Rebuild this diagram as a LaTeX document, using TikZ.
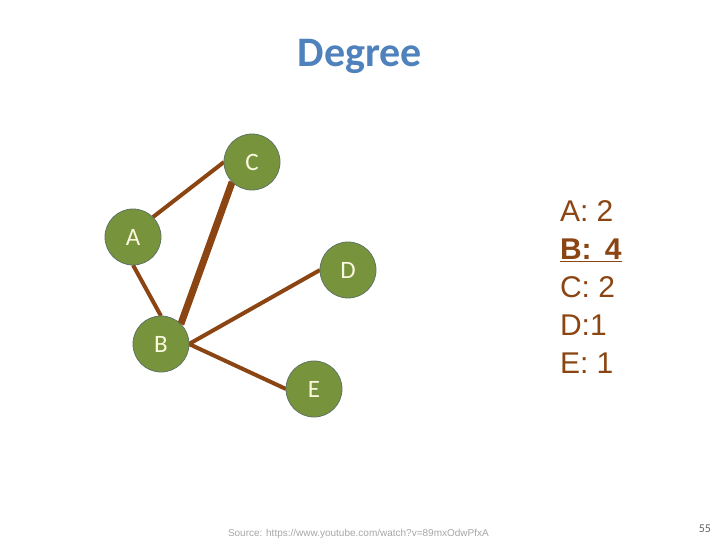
\documentclass[tikz,border=0pt]{standalone}
\usepackage{fontspec}
\setmainfont{Carlito}
\newfontfamily\arialfont{Liberation Sans}
\usepackage{tikz}
\usetikzlibrary{arrows, backgrounds}

\definecolor{titleblue}{RGB}{79,129,189}
\definecolor{edgebrown}{RGB}{139,69,19}
\definecolor{nodegreen}{RGB}{119,147,60}
\definecolor{nodeline}{RGB}{96,116,100}
\definecolor{labelcream}{RGB}{250,248,222}

\begin{document}
\begin{tikzpicture}[x=1pt, y=-1pt, semithick, inner sep=0pt, outer sep=0pt]

  \tikzstyle{vertex}=[circle, minimum size=56pt, fill=nodegreen,
    draw=nodeline, line width=0.8pt, text=labelcream,
    font=\fontsize{25}{25}\selectfont]
  \tikzstyle{link}=[draw=edgebrown, line width=4pt]

  \useasboundingbox (0,0) rectangle (720,540);

  \node[font=\fontsize{42}{42}\selectfont\bfseries, text=titleblue]
  (TITLE) at (360,56) {Degree};

  \node[vertex] (C) at (252,162) {C};
  \node[vertex] (A) at (133,237) {A};
  \node[vertex] (B) at (161,344) {B};
  \node[vertex] (D) at (348,270) {D};
  \node[vertex] (E) at (314,389) {E};

  % links go under the circles
  \begin{scope}[on background layer]
    \path
    (A.45) edge [link] (C.west)
    (A.south) edge [link] (B.north)
    (B.45) edge [link, line width=7pt] (C.225)
    (B.east) edge [link] (D.west)
    edge [link] (E.west);
  \end{scope}

  \node[anchor=north west, align=left, text=edgebrown,
    font=\arialfont\fontsize{30}{38}\selectfont]
  (DEG) at (560,201) {A: 2\\\underline{\textbf{B:\ \,4}}\\C: 2\\D:1\\E: 1};

  \node[anchor=base west, text=gray!70, font=\arialfont\fontsize{10}{10}\selectfont]
  (SRC) at (228,536) {Source: https://www.youtube.com/watch?v=89mxOdwPfxA};
  \node[anchor=base east, text=gray!80!black, font=\fontsize{12}{12}\selectfont]
  (PAGE) at (711,532) {55};
\end{tikzpicture}
\end{document}
